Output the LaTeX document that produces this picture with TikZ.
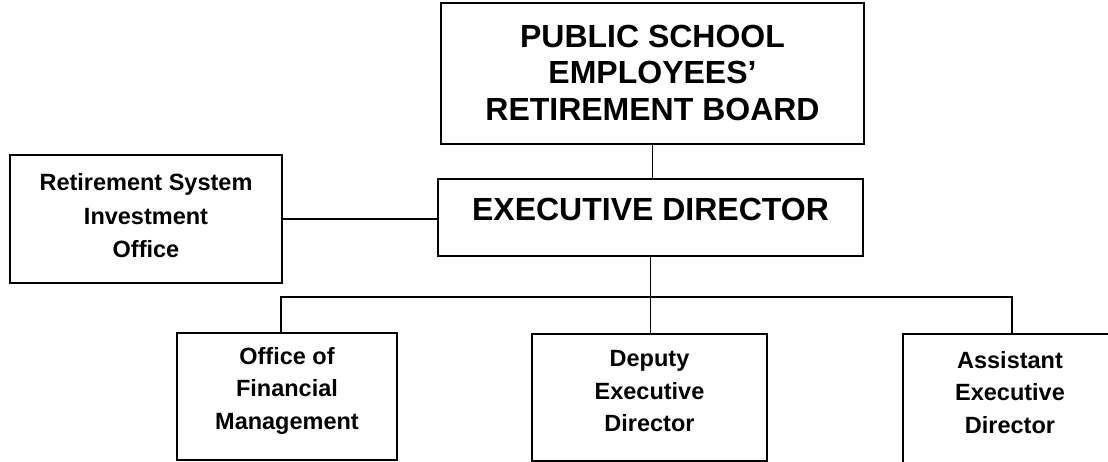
\documentclass[tikz,border=0pt]{standalone}
\usepackage{fontspec}
\setmainfont{Liberation Sans}
\begin{document}
\begin{tikzpicture}[x=1pt,y=-1pt,
  box/.style={draw=black, line width=1.8pt, rectangle, inner sep=0pt},
  lbl/.style={align=center, font=\bfseries\fontsize{23.5}{33.5}\selectfont},
  conn/.style={draw=black, line width=1.6pt}]
\useasboundingbox (0,0) rectangle (1108,462);
\clip (0,0) rectangle (1108,462);
% boxes
\node[box, minimum width=423pt, minimum height=141pt] (board) at (652.5,73.5) {};
\node[align=center, font=\bfseries\fontsize{32}{36.5}\selectfont] (boardtext) at (652.5,72.5) {PUBLIC SCHOOL\\EMPLOYEES’\\RETIREMENT BOARD};
\node[box, minimum width=425pt, minimum height=77pt] (ed) at (650.5,217.5) {};
\node[font=\bfseries\fontsize{32}{38}\selectfont] (edtext) at (650.5,209) {EXECUTIVE DIRECTOR};
\node[box, minimum width=272pt, minimum height=128pt] (rsio) at (146,219) {};
\node[lbl] (rsiotext) at (146,216) {Retirement System\\Investment\\Office};
\node[box, minimum width=220pt, minimum height=127pt] (ofm) at (287,396.5) {};
\node[lbl, font=\bfseries\fontsize{23.5}{32.5}\selectfont] (ofmtext) at (287,390.5) {Office of\\Financial\\Management};
\node[box, minimum width=235pt, minimum height=127pt] (dep) at (649.5,397.5) {};
\node[lbl, font=\bfseries\fontsize{23.5}{32.5}\selectfont] (deptext) at (649.5,391.5) {Deputy\\Executive\\Director};
\node[box, minimum width=214pt, minimum height=140pt] (asst) at (1010,404) {};
\node[lbl, font=\bfseries\fontsize{23.5}{32.5}\selectfont] (assttext) at (1010,392.5) {Assistant\\Executive\\Director};
% connectors
\coordinate (bus) at (650,297);
\draw[conn] (board.south) -- (board.south |- ed.north);
\draw[conn] (rsio.east) -- (rsio.east -| ed.west);
\draw[conn] (ed.south) -- (ed.south |- dep.north);
\draw[conn] ([xshift=-6pt]ofm.north) |- (bus) -| ([xshift=2pt]asst.north);
\end{tikzpicture}
\end{document}
